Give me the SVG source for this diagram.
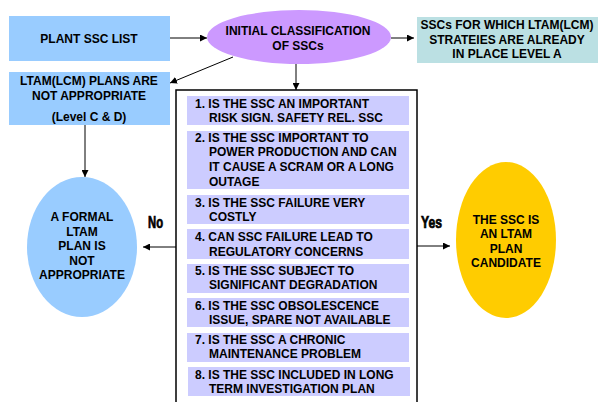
<svg xmlns="http://www.w3.org/2000/svg" width="598" height="402" viewBox="0 0 598 402">
  <style>
    text { font-family: "Liberation Sans", Arial, sans-serif; font-weight: bold; font-size: 12px; fill: #000; }
    .c { text-anchor: middle; }
    .lbl { font-size: 16px; stroke: #000; stroke-width: 0.7px; }
    .blue { fill: #99ccff; }
    .crit { fill: #ccccff; }
    .conn { stroke: #000; stroke-width: 1; fill: none; marker-end: url(#arrow); }
  </style>
  <defs>
    <marker id="arrow" viewBox="0 0 10 10" refX="10" refY="5" markerWidth="7" markerHeight="7" markerUnits="userSpaceOnUse" orient="auto">
      <path d="M0,0 L10,5 L0,10 z" fill="#000"/>
    </marker>
  </defs>
  <rect width="598" height="402" fill="#fff"/>

  <g id="plant-ssc-list">
    <rect class="blue" x="9" y="16" width="161" height="45"/>
    <text class="c" x="89" y="43">PLANT SSC LIST</text>
  </g>

  <g id="initial-classification">
    <ellipse cx="299" cy="37" rx="92" ry="27" fill="#cc99ff"/>
    <text class="c" x="298" y="35">INITIAL CLASSIFICATION</text>
    <text class="c" x="298" y="50">OF SSCs</text>
  </g>

  <g id="level-a">
    <rect x="417" y="17" width="181" height="46" fill="#bbe0e3"/>
    <text class="c" x="507" y="29">SSCs FOR WHICH LTAM(LCM)</text>
    <text class="c" x="507" y="44">STRATEIES ARE ALREADY</text>
    <text class="c" x="507" y="58">IN PLACE LEVEL A</text>
  </g>

  <g id="not-appropriate-cd">
    <rect class="blue" x="9" y="72" width="161" height="53"/>
    <text class="c" x="89" y="85">LTAM(LCM) PLANS ARE</text>
    <text class="c" x="89" y="100">NOT APPROPRIATE</text>
    <text class="c" x="89" y="121">(Level C &amp; D)</text>
  </g>

  <g id="criteria">
    <rect x="176" y="90" width="241" height="320" fill="#fff" stroke="#000" stroke-width="1.5"/>
    <rect class="crit" x="187" y="96" width="222" height="29"/>
    <text x="195" y="108">1. IS THE SSC AN IMPORTANT</text>
    <text x="209" y="122">RISK SIGN. SAFETY REL. SSC</text>

    <rect class="crit" x="187" y="131" width="222" height="58"/>
    <text x="195" y="142">2. IS THE SSC IMPORTANT TO</text>
    <text x="209" y="156">POWER PRODUCTION AND CAN</text>
    <text x="209" y="171">IT CAUSE A SCRAM OR A LONG</text>
    <text x="209" y="186">OUTAGE</text>

    <rect class="crit" x="187" y="195" width="222" height="29"/>
    <text x="195" y="207">3. IS THE SSC FAILURE VERY</text>
    <text x="209" y="221">COSTLY</text>

    <rect class="crit" x="187" y="229" width="222" height="30"/>
    <text x="195" y="241">4. CAN SSC FAILURE LEAD TO</text>
    <text x="209" y="256">REGULATORY CONCERNS</text>

    <rect class="crit" x="187" y="264" width="222" height="29"/>
    <text x="195" y="275">5. IS THE SSC SUBJECT TO</text>
    <text x="209" y="289">SIGNIFICANT DEGRADATION</text>

    <rect class="crit" x="187" y="298" width="222" height="29"/>
    <text x="195" y="310">6. IS THE SSC OBSOLESCENCE</text>
    <text x="209" y="324">ISSUE, SPARE NOT AVAILABLE</text>

    <rect class="crit" x="187" y="333" width="222" height="29"/>
    <text x="195" y="344">7. IS THE SSC A CHRONIC</text>
    <text x="209" y="358">MAINTENANCE PROBLEM</text>

    <rect class="crit" x="188" y="367" width="222" height="29"/>
    <text x="195" y="379">8. IS THE SSC INCLUDED IN LONG</text>
    <text x="209" y="393">TERM INVESTIGATION PLAN</text>
  </g>

  <g id="formal-plan-not-appropriate">
    <ellipse class="blue" cx="82" cy="247" rx="55" ry="70"/>
    <text class="c" x="82" y="221">A FORMAL</text>
    <text class="c" x="82" y="236">LTAM</text>
    <text class="c" x="82" y="250">PLAN IS</text>
    <text class="c" x="82" y="265">NOT</text>
    <text class="c" x="82" y="279">APPROPRIATE</text>
  </g>

  <g id="ltam-candidate">
    <ellipse cx="506" cy="240" rx="50" ry="78" fill="#ffcc00"/>
    <text class="c" x="506" y="224">THE SSC IS</text>
    <text class="c" x="506" y="238">AN LTAM</text>
    <text class="c" x="506" y="253">PLAN</text>
    <text class="c" x="506" y="267">CANDIDATE</text>
  </g>

  <g id="connectors">
    <line class="conn" x1="170" y1="38" x2="207" y2="38"/>
    <line class="conn" x1="391" y1="38" x2="414" y2="38"/>
    <line class="conn" x1="233" y1="57" x2="170" y2="83"/>
    <line class="conn" x1="296" y1="64" x2="296" y2="90"/>
    <line class="conn" x1="85" y1="125" x2="85" y2="177"/>
    <line class="conn" x1="176" y1="247" x2="143" y2="247"/>
    <line class="conn" x1="417" y1="246" x2="450" y2="246"/>
    <text class="lbl" x="148" y="228" textLength="15" lengthAdjust="spacingAndGlyphs">No</text>
    <text class="lbl" x="421" y="228" textLength="21" lengthAdjust="spacingAndGlyphs">Yes</text>
  </g>
</svg>
